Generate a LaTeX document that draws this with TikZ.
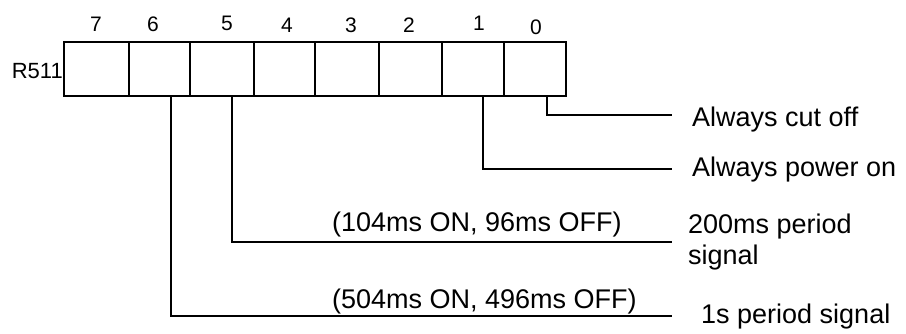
\documentclass[tikz,border=0pt]{standalone}
\usepackage{fontspec}
\setmainfont{Liberation Sans}
\begin{document}
\begin{tikzpicture}[x=1pt,y=-1pt,
  cell/.style={draw,line width=1.8pt,minimum height=54pt,inner sep=0pt},
  bitnum/.style={anchor=base,inner sep=0pt,font=\fontsize{21}{25}\selectfont},
  lbl/.style={anchor=base west,inner sep=0pt,font=\fontsize{27}{32}\selectfont},
  conn/.style={line width=1.8pt}]
\useasboundingbox (0,0) rectangle (906,334);
% register cells
\node[cell,minimum width=65pt] (c7) at (96.5,69) {};
\node[cell,minimum width=61pt] (c6) at (159.5,69) {};
\node[cell,minimum width=64pt] (c5) at (222,69) {};
\node[cell,minimum width=61pt] (c4) at (284.5,69) {};
\node[cell,minimum width=64pt] (c3) at (347,69) {};
\node[cell,minimum width=63pt] (c2) at (410.5,69) {};
\node[cell,minimum width=62pt] (c1) at (473,69) {};
\node[cell,minimum width=62pt] (c0) at (535,69) {};
% register name
\node[anchor=base east,inner sep=0pt,font=\fontsize{22}{26}\selectfont] (reg) at (63,79) {R511};
% bit numbers
\node[bitnum] (n7) at (96,32) {7};
\node[bitnum] (n6) at (153,32) {6};
\node[bitnum] (n5) at (227,31) {5};
\node[bitnum] (n4) at (287,33) {4};
\node[bitnum] (n3) at (351,33) {3};
\node[bitnum] (n2) at (409,33) {2};
\node[bitnum] (n1) at (479,31) {1};
\node[bitnum] (n0) at (536,35) {0};
% connector ends
\coordinate (e0) at (672,115);
\coordinate (e1) at (672,169);
\coordinate (e5) at (672,242);
\coordinate (e6) at (672,316);
\draw[conn] ([xshift=12pt]c0.south) |- (e0);
\draw[conn] ([xshift=10pt]c1.south) |- (e1);
\draw[conn] ([xshift=10pt]c5.south) |- (e5);
\draw[conn] ([xshift=11.5pt]c6.south) |- (e6);
% labels
\node[lbl] (t0) at (692,127) {Always cut off};
\node[lbl] (t1) at (692,177) {Always power on};
\node[lbl] (p5) at (332,232) {(104ms ON, 96ms OFF)};
\node[lbl] (p6) at (332,308) {(504ms ON, 496ms OFF)};
\node[lbl,align=left] (t5) at (688,265) {200ms period\\signal};
\node[lbl] (t6) at (701,323) {1s period signal};
\end{tikzpicture}
\end{document}
